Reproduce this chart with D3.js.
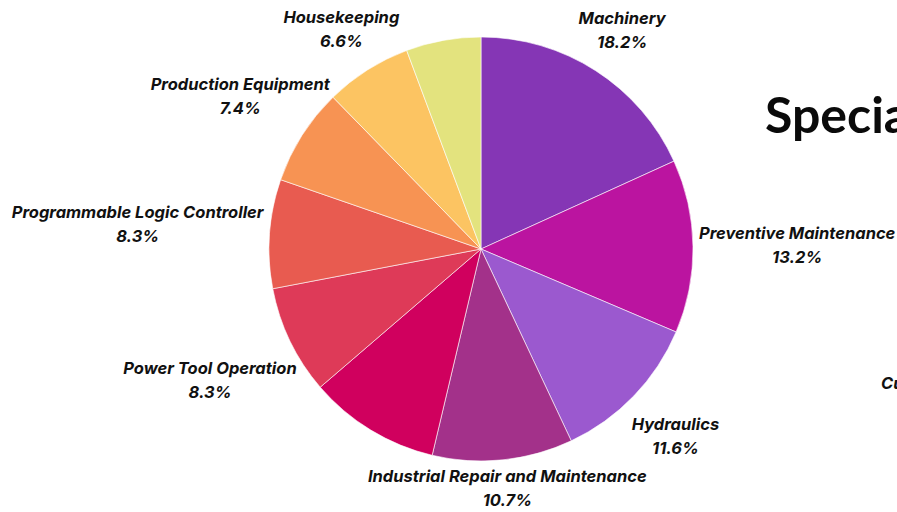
<!DOCTYPE html>
<html>
<head>
<meta charset="utf-8">
<script src="https://cdn.jsdelivr.net/npm/d3@7"></script>
<style>
  html, body { margin: 0; padding: 0; background: #ffffff; }
  svg { display: block; }
  .lbl { font-family: "Inter", "DejaVu Sans", sans-serif; font-weight: 700; font-style: italic; font-size: 16.5px; fill: #111111; }
  .title { font-family: "Lato", "DejaVu Sans", sans-serif; font-weight: 700; font-size: 50px; fill: #0a0a0a; }
</style>
</head>
<body>
<svg id="chart" width="897" height="512"></svg>
<script>
// Share of training hours by skill area (percent)
const categories = [
  "Machinery",
  "Preventive Maintenance",
  "Hydraulics",
  "Industrial Repair and Maintenance",
  "Welding",
  "Power Tool Operation",
  "Programmable Logic Controller",
  "Production Equipment",
  "Housekeeping",
  "Safety"
];
const values = [18.2, 13.2, 11.6, 10.7, 10.0, 8.3, 8.3, 7.4, 6.6, 5.7];
const colors = [
  "#8536b5", "#bb14a0", "#9b59cf", "#a3318a", "#d0005e",
  "#de3a58", "#e85b50", "#f79353", "#fcc462", "#e3e37e"
];
// labels that collide with a neighbour are not shown
const showLabel = [true, true, true, true, false, true, true, true, true, false];

const W = 897, H = 512;
const cx = 481, cy = 249, radius = 212;
const svg = d3.select("#chart");

const data = categories.map((c, i) => ({ name: c, value: values[i], color: colors[i], show: showLabel[i] }));

const pie = d3.pie().value(d => d.value).sort(null);
const arc = d3.arc().innerRadius(0).outerRadius(radius);
const arcs = pie(data);

const g = svg.append("g").attr("transform", `translate(${cx},${cy})`);

g.selectAll("path.slice")
  .data(arcs)
  .enter().append("path")
  .attr("class", "slice")
  .attr("d", arc)
  .attr("fill", d => d.data.color)
  .attr("stroke", "#ffffff")
  .attr("stroke-width", 0.6);

// Labels: centred on the slice's mid-angle ray, pushed out until the
// label box clears a ring just outside the pie, then kept inside the canvas.
const lineGap = 24, ring = radius + 6, halfBoxH = 36, halfCap = 6;
const labels = g.selectAll("g.label")
  .data(arcs.filter(d => d.data.show))
  .enter().append("g")
  .attr("class", "label");

labels.each(function(d) {
  const sel = d3.select(this);
  const t1 = sel.append("text").attr("class", "lbl").attr("text-anchor", "middle").text(d.data.name);
  const t2 = sel.append("text").attr("class", "lbl").attr("text-anchor", "middle").text(d.data.value.toFixed(1) + "%");
  const w = Math.max(t1.node().getComputedTextLength(), t2.node().getComputedTextLength());
  const a = (d.startAngle + d.endAngle) / 2;
  const vx = Math.sin(a), vy = -Math.cos(a);
  const reach = Math.min(
    Math.abs(vx) > 1e-6 ? (w / 2) / Math.abs(vx) : Infinity,
    Math.abs(vy) > 1e-6 ? halfBoxH / Math.abs(vy) : Infinity
  );
  const dist = ring + reach;
  const x = vx * dist;
  let y = vy * dist;
  // keep both lines on the canvas
  const top = -cy + 4 + lineGap / 2 + halfCap;
  const bottom = H - cy - 6 - lineGap / 2 - halfCap;
  y = Math.max(top, Math.min(bottom, y));
  t1.attr("x", x).attr("y", y - lineGap / 2 + halfCap);
  t2.attr("x", x).attr("y", y + lineGap / 2 + halfCap);
});

// Heading of the panel to the right
svg.append("text").attr("class", "title").attr("x", 765).attr("y", 133).text("Specialization");
svg.append("text").attr("class", "lbl").attr("x", 881).attr("y", 389).text("Current");
</script>
</body>
</html>
